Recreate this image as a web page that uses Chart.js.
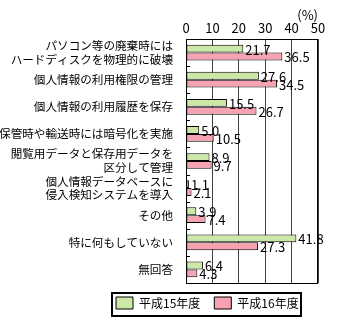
<!DOCTYPE html>
<html>
<head>
<meta charset="utf-8">
<script src="https://cdn.jsdelivr.net/npm/chart.js"></script>
<style>
  html, body { margin: 0; padding: 0; background: #fff; }
  #wrap { width: 338px; height: 326px; position: relative; }
</style>
</head>
<body>
<div id="wrap"><canvas id="myChart"></canvas></div>
<script>
// chart data
const categories = [
  ["パソコン等の廃棄時には", "ハードディスクを物理的に破壊"],
  "個人情報の利用権限の管理",
  "個人情報の利用履歴を保存",
  "保管時や輸送時には暗号化を実施",
  ["閲覧用データと保存用データを", "区分して管理"],
  ["個人情報データベースに", "侵入検知システムを導入"],
  "その他",
  "特に何もしていない",
  "無回答",
];
const seriesNames = ["平成15年度", "平成16年度"];
const valuesH15 = [21.7, 27.6, 15.5, 5.0, 8.9, 1.1, 3.9, 41.8, 6.4];
const valuesH16 = [36.5, 34.5, 26.7, 10.5, 9.7, 2.1, 7.4, 27.3, 4.3];
const xTicks = [0, 10, 20, 30, 40, 50];
const unitLabel = "(%)";

const FONT = "'Noto Sans CJK JP', 'Noto Sans', sans-serif";
Chart.defaults.color = "#000";
Chart.defaults.font.family = FONT;

//move the legend row so it sits under the plot like in the original
const legendShift = {
  id: "legendShift",
  afterLayout(chart) {
    chart.legend.left = 102;
  },
};

//draws the black frame round the plot, the small marks between categories and the legend box
const framePlugin = {
  id: "frame",
  afterDraw(chart) {
    const { ctx, chartArea } = chart;
    const yScale = chart.scales.y;
    ctx.save();
    ctx.strokeStyle = "#000";
    ctx.lineWidth = 1;
    ctx.strokeRect(Math.round(chartArea.left) + 0.5, Math.round(chartArea.top) + 0.5,
      Math.round(chartArea.right - chartArea.left) - 1, Math.round(chartArea.bottom - chartArea.top));
    ctx.beginPath();
    for (let i = 1; i < categories.length; i++) {
      const y = Math.round((yScale.getPixelForValue(i - 1) + yScale.getPixelForValue(i)) / 2) + 0.5;
      ctx.moveTo(chartArea.left, y);
      ctx.lineTo(chartArea.left + 4, y);
    }
    ctx.stroke();

    // legend border
    const boxes = chart.legend.legendHitBoxes;
    if (boxes && boxes.length) {
      const first = boxes[0];
      const last = boxes[boxes.length - 1];
      const x0 = Math.round(first.left) - 4;
      const x1 = Math.round(last.left + last.width) + 2;
      const y0 = Math.round(first.top) - 4;
      const y1 = Math.round(first.top) + 19;
      ctx.lineWidth = 2;
      ctx.strokeRect(x0, y0, x1 - x0, y1 - y0);
    }
    ctx.restore();
  },
};

//value labels at the end of every bar
const valueLabels = {
  id: "valueLabels",
  afterDatasetsDraw(chart) {
    const { ctx } = chart;
    ctx.save();
    ctx.font = "13px " + FONT;
    ctx.fillStyle = "#000";
    ctx.textAlign = "left";
    ctx.textBaseline = "middle";
    chart.data.datasets.forEach((ds, di) => {
      const meta = chart.getDatasetMeta(di);
      meta.data.forEach((bar, i) => {
        ctx.fillText(ds.data[i].toFixed(1), bar.x + 2, bar.y + 1);
      });
    });
    ctx.restore();
  },
};

new Chart("myChart", {
  type: "bar",
  data: {
    labels: categories,
    datasets: [
      {
        label: seriesNames[0],
        data: valuesH15,
        backgroundColor: "#cce8a6",
        borderColor: "#000",
        borderWidth: 1,
        borderSkipped: false,
      },
      {
        label: seriesNames[1],
        data: valuesH16,
        backgroundColor: "#f7a2b2",
        borderColor: "#000",
        borderWidth: 1,
        borderSkipped: false,
      },
    ],
  },
  options: {
    indexAxis: "y",
    responsive: true,
    maintainAspectRatio: false,
    animation: false,
    layout: { padding: { left: 0, right: 20, top: 0, bottom: 7 } },
    datasets: {
      bar: { categoryPercentage: 0.58, barPercentage: 1.0 },
    },
    plugins: {
      tooltip: { enabled: false },
      legend: {
        position: "bottom",
        align: "start",
        labels: {
          boxWidth: 17,
          boxHeight: 12,
          padding: 14,
          color: "#000",
          font: { size: 12, family: FONT },
        },
      },
    },
    scales: {
      x: {
        position: "top",
        min: 0,
        max: 50,
        afterBuildTicks(scale) {
          scale.ticks = xTicks.map((v) => ({ value: v }));
        },
        afterFit(scale) {
          scale.height = 39;
        },
        grid: {
          color: "#404040",
          drawTicks: false,
        },
        border: { display: false },
        ticks: {
          padding: 3,
          font: { size: 13 },
          color: "#000",
        },
        title: {
          display: true,
          text: unitLabel,
          align: "end",
          font: { size: 13 },
          padding: { top: 7, bottom: 0 },
          color: "#000",
        },
      },
      y: {
        afterFit(scale) {
          scale.width = 186;
        },
        grid: { display: false },
        border: { display: false },
        ticks: {
          padding: 5,
          font: { size: 11.6, lineHeight: 1.2 },
          color: "#000",
          autoSkip: false,
        },
      },
    },
  },
  plugins: [legendShift, framePlugin, valueLabels],
});
</script>
</body>
</html>
